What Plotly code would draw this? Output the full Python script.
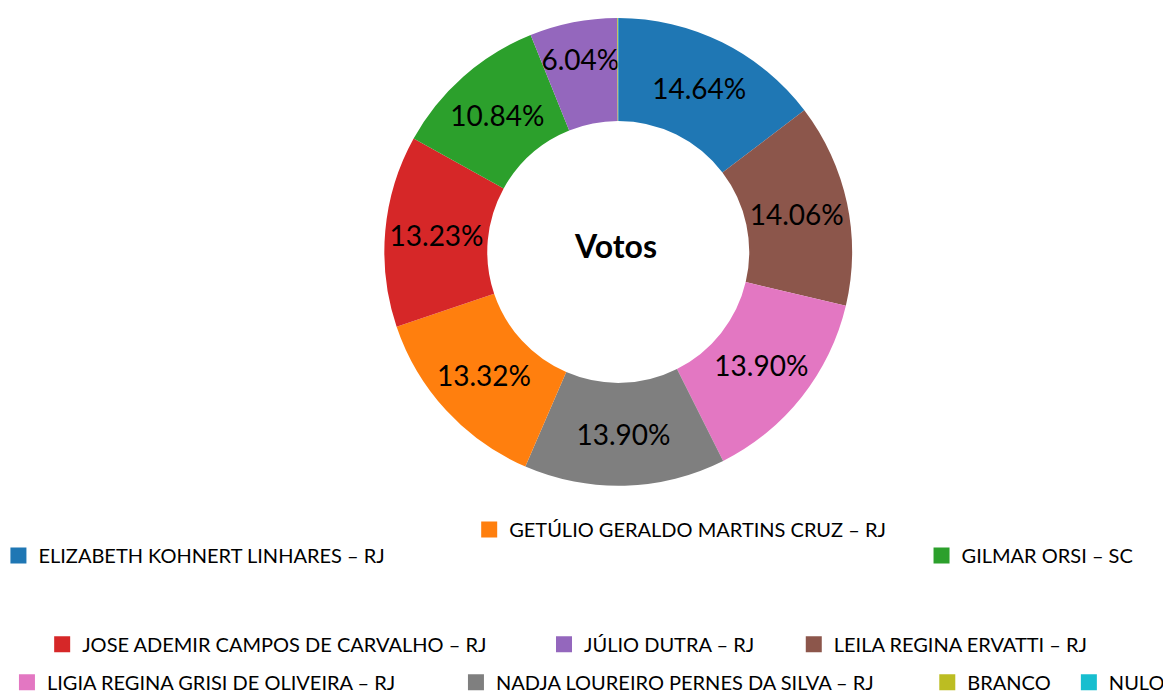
import plotly.graph_objects as go

candidates = [
    "ELIZABETH KOHNERT LINHARES – RJ",
    "GETÚLIO GERALDO MARTINS CRUZ – RJ",
    "GILMAR ORSI – SC",
    "JOSE ADEMIR CAMPOS DE CARVALHO – RJ",
    "JÚLIO DUTRA – RJ",
    "LEILA REGINA ERVATTI – RJ",
    "LIGIA REGINA GRISI DE OLIVEIRA – RJ",
    "NADJA LOUREIRO PERNES DA SILVA – RJ",
    "BRANCO",
    "NULO",
]
percent_votes = [14.64, 13.32, 10.84, 13.23, 6.04, 14.06, 13.90, 13.90, 0.05, 0.02]
colors = ["#1f77b4", "#ff7f0e", "#2ca02c", "#d62728", "#9467bd",
          "#8c564b", "#e377c2", "#7f7f7f", "#bcbd22", "#17becf"]
labels_text = [f"{v:.2f}%" if v > 1 else "" for v in percent_votes]

# legend entry positions (paper coords) reproducing the reference's 3-row layout
legend_x = [-0.017, 0.392, 0.785, 0.021, 0.457, 0.674, -0.0096, 0.3805, 0.790, 0.913]
legend_y = [0.206, 0.2445, 0.206, 0.075, 0.075, 0.075, 0.019, 0.019, 0.019, 0.019]

FONT = "Lato, 'Open Sans', sans-serif"

fig = go.Figure()
fig.add_trace(go.Pie(
    labels=candidates,
    values=percent_votes,
    text=labels_text,
    texttemplate="%{text}",
    textposition="inside",
    insidetextorientation="horizontal",
    textfont=dict(size=28, color="black", family=FONT),
    marker=dict(colors=colors, line=dict(width=0)),
    hole=0.56,
    sort=True,
    direction="clockwise",
    rotation=0,
    showlegend=False,
    domain=dict(x=[0.318, 0.725], y=[0.309, 1.0]),
))

legend_layouts = {}
for i, (name, col) in enumerate(zip(candidates, colors)):
    key = "legend" if i == 0 else f"legend{i + 1}"
    fig.add_trace(go.Scatter(
        x=[None], y=[None], mode="markers", name=name,
        marker=dict(symbol="square", size=16, color=col),
        legend=key, showlegend=True, hoverinfo="skip",
    ))
    legend_layouts[key] = dict(
        x=legend_x[i], y=legend_y[i], xanchor="left", yanchor="middle",
        orientation="h", bgcolor="rgba(0,0,0,0)",
        font=dict(size=20, family=FONT, color="black"),
    )

fig.add_annotation(text="<b>Votos</b>", x=0.5195, y=0.6635, xref="paper", yref="paper",
                   showarrow=False, font=dict(size=32, color="black", family=FONT))

fig.update_layout(
    width=1171, height=697,
    margin=dict(l=10, r=10, t=10, b=10, autoexpand=False),
    paper_bgcolor="white",
    plot_bgcolor="white",
    font=dict(family=FONT, size=20, color="black"),
    uniformtext=dict(minsize=28, mode="show"),
    xaxis=dict(visible=False),
    yaxis=dict(visible=False),
    **legend_layouts,
)

fig.write_html("out.html")
